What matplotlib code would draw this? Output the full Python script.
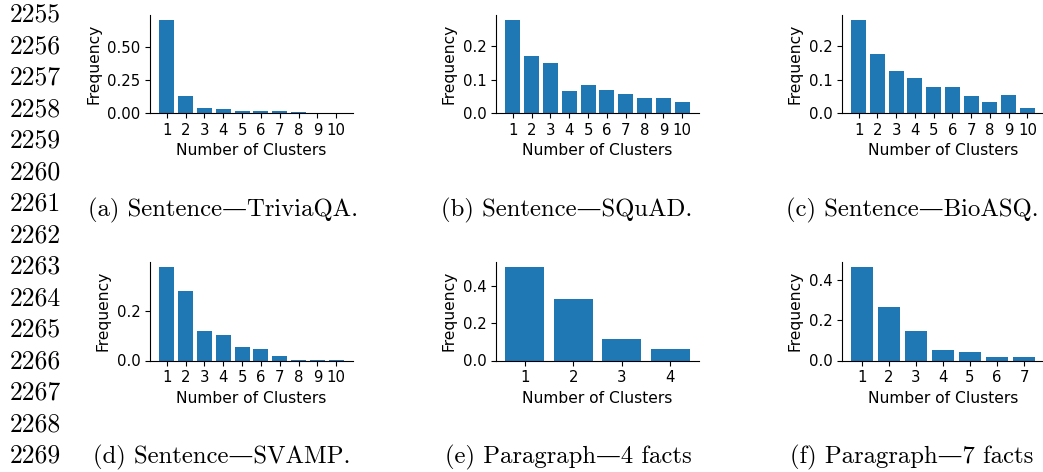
import numpy as np
import matplotlib.pyplot as plt

# cluster count frequencies
trivia = [0.707, 0.125, 0.040, 0.033, 0.018, 0.018, 0.018, 0.010, 0.002, 0.002]
squad = [0.279, 0.169, 0.150, 0.067, 0.084, 0.070, 0.057, 0.045, 0.045, 0.034]
bioasq = [0.279, 0.176, 0.126, 0.105, 0.078, 0.078, 0.051, 0.034, 0.054, 0.014]
svamp = [0.378, 0.279, 0.118, 0.102, 0.054, 0.046, 0.017, 0.001, 0.001, 0.001]
para4 = [0.501, 0.329, 0.113, 0.060]
para7 = [0.466, 0.267, 0.149, 0.051, 0.041, 0.016, 0.016]

panels = [trivia, squad, bioasq, svamp, para4, para7]
captions = ["(a) Sentence\u2014TriviaQA.", "(b) Sentence\u2014SQuAD.",
            "(c) Sentence\u2014BioASQ.", "(d) Sentence\u2014SVAMP.",
            "(e) Paragraph\u20144 facts", "(f) Paragraph\u20147 facts"]
line_numbers = list(range(2255, 2270))

W, H = 1043, 472
fig = plt.figure(figsize=(W / 100, H / 100), dpi=100)

lefts = [150, 496, 842]
widths = [203, 203, 202]
tops = [15, 262]
heights = [98, 98.5]
cap_x = [223, 567, 912, 222, 568, 912]
cap_y = [210, 457]

serif = ['cmr10', 'DejaVu Serif']

for i, vals in enumerate(panels):
    r, c = divmod(i, 3)
    ax = fig.add_axes([lefts[c] / W, 1 - (tops[r] + heights[r]) / H,
                       widths[c] / W, heights[r] / H])
    x = np.arange(1, len(vals) + 1)
    ax.bar(x, vals, color='#1f77b4')
    ax.set_xticks(x)
    ax.spines['top'].set_visible(False)
    ax.spines['right'].set_visible(False)
    ax.set_xlabel('Number of Clusters', fontsize=11.2)
    ax.set_ylabel('Frequency', fontsize=11.2)
    ax.tick_params(labelsize=10.7)
    fig.text(cap_x[i] / W, 1 - cap_y[r] / H, captions[i], ha='center', va='center',
             fontsize=17.8, family=serif)

for k, n in enumerate(line_numbers):
    fig.text(10 / W, 1 - (15 + 31.5 * k) / H, str(n), ha='left', va='center',
             fontsize=18.5, family=serif)

fig.savefig('out.png', dpi=100)
